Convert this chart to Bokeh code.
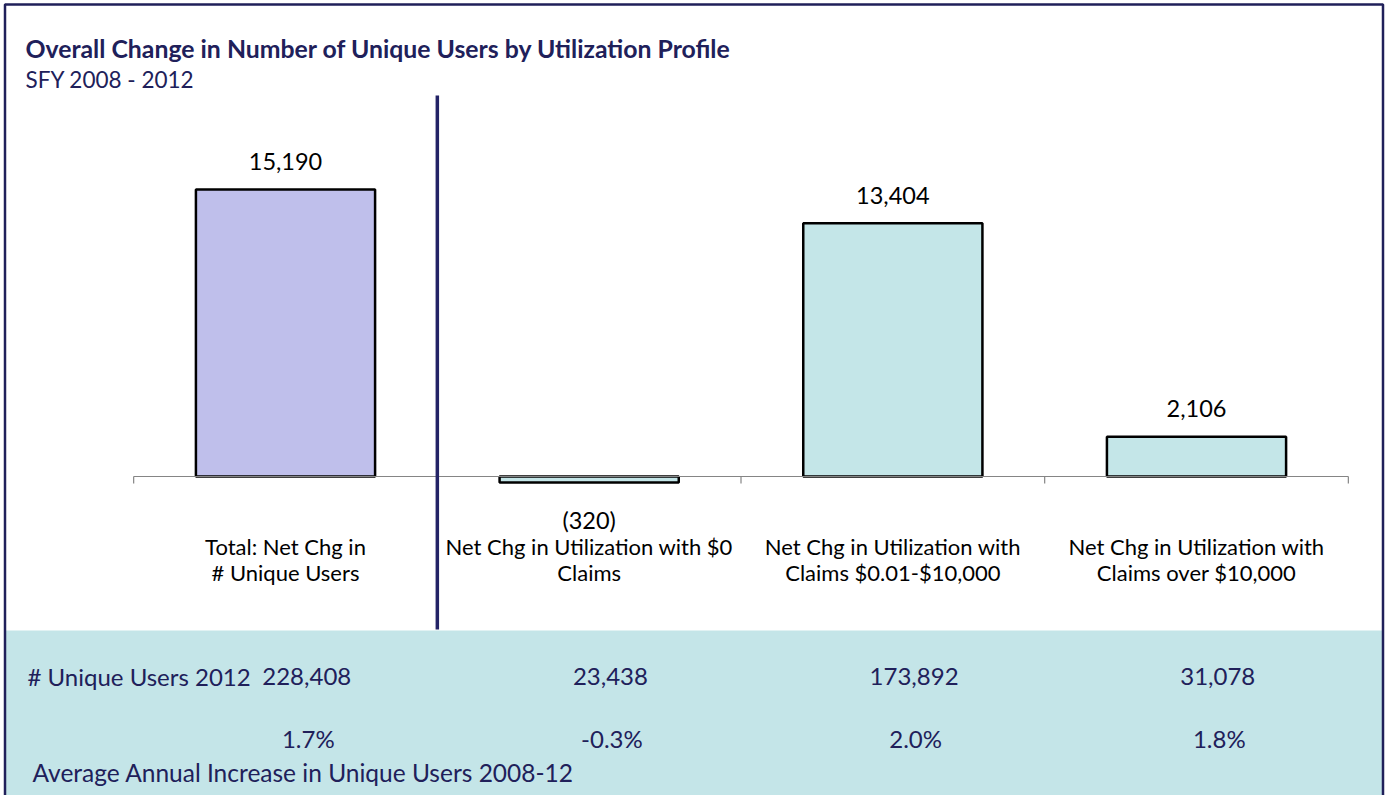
from bokeh.plotting import figure
from bokeh.models import Range1d, ColumnDataSource
from bokeh.core.properties import value
from bokeh.embed import file_html
from bokeh.resources import INLINE

# ---------------- data ----------------
title_text = "Overall Change in Number of Unique Users by Utilization Profile"
subtitle_text = "SFY 2008 - 2012"
categories = [
    "Total: Net Chg in\n# Unique Users",
    "Net Chg in Utilization with $0\nClaims",
    "Net Chg in Utilization with\nClaims $0.01-$10,000",
    "Net Chg in Utilization with\nClaims over $10,000",
]
net_change = [15190, -320, 13404, 2106]
users_2012 = [228408, 23438, 173892, 31078]
avg_annual_increase = [1.7, -0.3, 2.0, 1.8]
row1_label = "# Unique Users 2012"
row2_label = "Average Annual Increase in Unique Users 2008-12"

# ---------------- layout helpers ----------------
W, H = 1385, 795
K = 287 / 15190.0          # px per data unit (vertical)
SLOT = 303.67              # px per category
BASE_PX = 476              # baseline row (px from top)
C1_PX = 285                # centre of first category (px from left)


def ry(px):
    return (BASE_PX - px) / K


def rx(px):
    return 1 + (px - C1_PX) / SLOT


NAVY = "#20205A"
FONT = value("Lato")
FS = "22px"
FS_BAND = "24px"

p = figure(width=W, height=H, output_backend="svg", toolbar_location=None,
           x_range=Range1d(rx(0), rx(W)),
           y_range=Range1d(ry(H), ry(0)),
           min_border=0, min_border_left=0, min_border_right=0,
           min_border_top=0, min_border_bottom=0)
p.axis.visible = False
p.grid.visible = False
p.background_fill_color = "white"
p.border_fill_color = "white"
p.outline_line_color = None

xs = [i + 1 for i in range(len(categories))]

# bottom band
p.quad(left=[rx(4)], right=[rx(1382)], top=[ry(630)], bottom=[ry(H + 10)],
       fill_color="#C4E5E8", line_color=None)

# outer border
p.quad(left=[rx(4.5)], right=[rx(1382.5)], top=[ry(4)], bottom=[ry(H + 10)],
       fill_color=None, line_color=NAVY, line_width=2.5)

# bars
fills = ["#BFBFEB"] + ["#C4E6E8"] * (len(categories) - 1)
src = ColumnDataSource(dict(x=xs, top=net_change, fill=fills))
p.vbar(x="x", top="top", bottom=0, width=0.59, source=src,
       fill_color="fill", line_color="black", line_width=2.5)

# baseline + ticks
p.segment(x0=[0.5], x1=[len(categories) + 0.5], y0=[0], y1=[0],
          line_color="#858585", line_width=1.2)
tick_x = [i + 0.5 for i in range(len(categories) + 1)]
p.segment(x0=tick_x, x1=tick_x, y0=[0] * len(tick_x), y1=[-7 / K] * len(tick_x),
          line_color="#858585", line_width=1.2)

# divider
p.segment(x0=[1.5], x1=[1.5], y0=[ry(95)], y1=[ry(629)], line_color="#232366", line_width=3.5)

# value labels
def fmt(v):
    return f"{v:,}" if v >= 0 else f"({abs(v):,})"

lab_y = [v + 28 / K if v >= 0 else v - 37 / K for v in net_change]
p.text(x=xs, y=lab_y, text=[fmt(v) for v in net_change], text_font=FONT,
       text_font_size="23.5px", text_align="center", text_baseline="middle", text_color="black")

# category labels
line1 = [c.split("\n")[0] for c in categories]
line2 = [c.split("\n")[1] for c in categories]
p.text(x=xs, y=[ry(546)] * 4, text=line1, text_font=FONT, text_font_size=FS,
       text_align="center", text_baseline="middle", text_color="black")
p.text(x=xs, y=[ry(572)] * 4, text=line2, text_font=FONT, text_font_size=FS,
       text_align="center", text_baseline="middle", text_color="black")

# title / subtitle
p.text(x=[rx(25)], y=[ry(48)], text=[title_text], text_font=FONT, text_font_size="24.8px",
       text_font_style="bold", text_align="left", text_baseline="middle", text_color=NAVY)
p.text(x=[rx(25)], y=[ry(79)], text=[subtitle_text], text_font=FONT, text_font_size="22.5px",
       text_align="left", text_baseline="middle", text_color=NAVY)

# band rows
p.text(x=[rx(27)], y=[ry(676)], text=[row1_label], text_font=FONT, text_font_size=FS_BAND,
       text_align="left", text_baseline="middle", text_color=NAVY)
p.text(x=[x + 0.07 for x in xs], y=[ry(676)] * 4, text=[f"{v:,}" for v in users_2012],
       text_font=FONT, text_font_size=FS_BAND, text_align="center", text_baseline="middle",
       text_color=NAVY)
p.text(x=[x + 0.075 for x in xs], y=[ry(738)] * 4, text=[f"{v:.1f}%" for v in avg_annual_increase],
       text_font=FONT, text_font_size=FS_BAND, text_align="center", text_baseline="middle",
       text_color=NAVY)
p.text(x=[rx(32)], y=[ry(772)], text=[row2_label], text_font=FONT, text_font_size="24.5px",
       text_align="left", text_baseline="middle", text_color=NAVY)

open("out.html", "w").write(file_html(p, INLINE))
